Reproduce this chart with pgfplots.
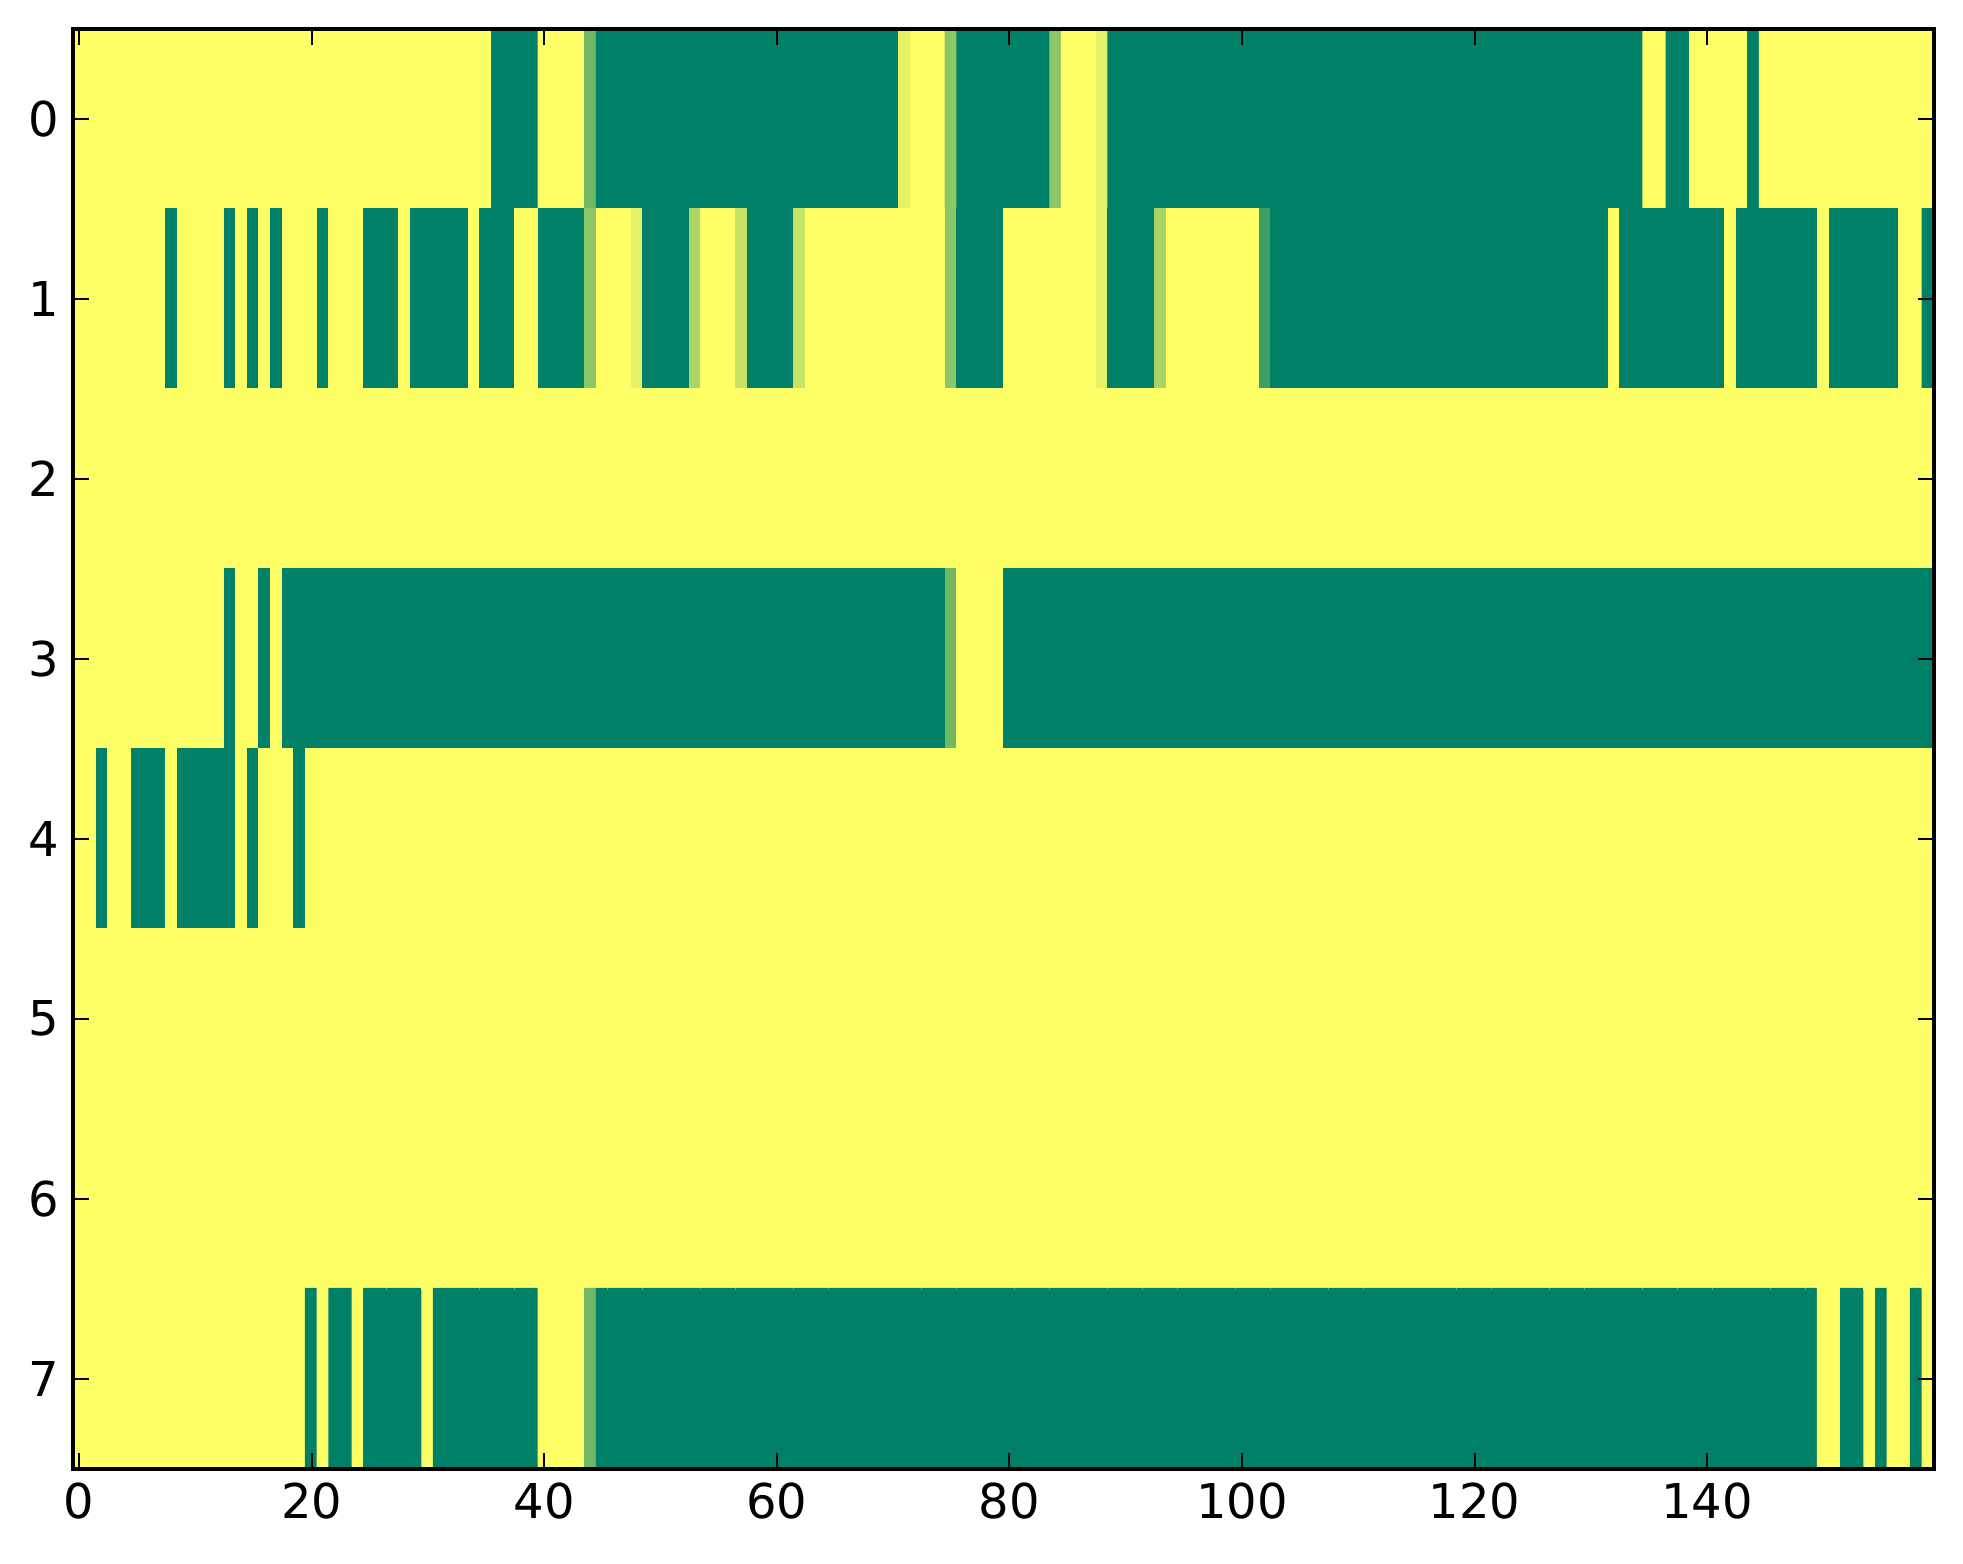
\documentclass[border=0pt]{standalone}
\usepackage{fontspec}
\setmainfont{DejaVu Sans}
\usepackage{pgfplots}
\pgfplotsset{compat=1.18}

\begin{document}
\begin{tikzpicture}
\begin{axis}[
    width=465.3pt, height=360pt, scale only axis,
    xmin=-0.5, xmax=159.5, ymin=-0.5, ymax=7.5,
    y dir=reverse,
    axis on top,
    xtick={0,20,...,140}, ytick={0,...,7},
    tick align=inside,
    major tick length=4pt,
    every tick/.style={black, line width=0.5pt},
    axis line style={line width=1pt},
    tick label style={font=\fontsize{12}{14}\selectfont},
    /pgf/number format/assume math mode=true,
    colormap={summer}{rgb255=(0,128,102) rgb255=(255,255,102)},
    point meta min=0, point meta max=1,
]
\addplot[matrix plot*, mesh/cols=160, mesh/rows=8, point meta=\thisrow{v}] table[row sep=\\] {
x y v\\
0 0 1\\1 0 1\\2 0 1\\3 0 1\\4 0 1\\5 0 1\\6 0 1\\7 0 1\\8 0 1\\9 0 1\\
10 0 1\\11 0 1\\12 0 1\\13 0 1\\14 0 1\\15 0 1\\16 0 1\\17 0 1\\18 0 1\\19 0 1\\
20 0 1\\21 0 1\\22 0 1\\23 0 1\\24 0 1\\25 0 1\\26 0 1\\27 0 1\\28 0 1\\29 0 1\\
30 0 1\\31 0 1\\32 0 1\\33 0 1\\34 0 1\\35 0 1\\36 0 0\\37 0 0\\38 0 0\\39 0 0\\
40 0 1\\41 0 1\\42 0 1\\43 0 1\\44 0 0.44\\45 0 0\\46 0 0\\47 0 0\\48 0 0\\49 0 0\\
50 0 0\\51 0 0\\52 0 0\\53 0 0\\54 0 0\\55 0 0\\56 0 0\\57 0 0\\58 0 0\\59 0 0\\
60 0 0\\61 0 0\\62 0 0\\63 0 0\\64 0 0\\65 0 0\\66 0 0\\67 0 0\\68 0 0\\69 0 0\\
70 0 0\\71 0 0.89\\72 0 1\\73 0 1\\74 0 1\\75 0 0.55\\76 0 0\\77 0 0\\78 0 0\\79 0 0\\
80 0 0\\81 0 0\\82 0 0\\83 0 0\\84 0 0.55\\85 0 1\\86 0 1\\87 0 1\\88 0 0.89\\89 0 0\\
90 0 0\\91 0 0\\92 0 0\\93 0 0\\94 0 0\\95 0 0\\96 0 0\\97 0 0\\98 0 0\\99 0 0\\
100 0 0\\101 0 0\\102 0 0\\103 0 0\\104 0 0\\105 0 0\\106 0 0\\107 0 0\\108 0 0\\109 0 0\\
110 0 0\\111 0 0\\112 0 0\\113 0 0\\114 0 0\\115 0 0\\116 0 0\\117 0 0\\118 0 0\\119 0 0\\
120 0 0\\121 0 0\\122 0 0\\123 0 0\\124 0 0\\125 0 0\\126 0 0\\127 0 0\\128 0 0\\129 0 0\\
130 0 0\\131 0 0\\132 0 0\\133 0 0\\134 0 0\\135 0 1\\136 0 1\\137 0 0\\138 0 0\\139 0 1\\
140 0 1\\141 0 1\\142 0 1\\143 0 1\\144 0 0\\145 0 1\\146 0 1\\147 0 1\\148 0 1\\149 0 1\\
150 0 1\\151 0 1\\152 0 1\\153 0 1\\154 0 1\\155 0 1\\156 0 1\\157 0 1\\158 0 1\\159 0 1\\
0 1 1\\1 1 1\\2 1 1\\3 1 1\\4 1 1\\5 1 1\\6 1 1\\7 1 1\\8 1 0\\9 1 1\\
10 1 1\\11 1 1\\12 1 1\\13 1 0\\14 1 1\\15 1 0\\16 1 1\\17 1 0\\18 1 1\\19 1 1\\
20 1 1\\21 1 0\\22 1 1\\23 1 1\\24 1 1\\25 1 0\\26 1 0\\27 1 0\\28 1 1\\29 1 0\\
30 1 0\\31 1 0\\32 1 0\\33 1 0\\34 1 1\\35 1 0\\36 1 0\\37 1 0\\38 1 1\\39 1 1\\
40 1 0\\41 1 0\\42 1 0\\43 1 0\\44 1 0.55\\45 1 1\\46 1 1\\47 1 1\\48 1 0.89\\49 1 0\\
50 1 0\\51 1 0\\52 1 0\\53 1 0.66\\54 1 1\\55 1 1\\56 1 1\\57 1 0.78\\58 1 0\\59 1 0\\
60 1 0\\61 1 0\\62 1 0.78\\63 1 1\\64 1 1\\65 1 1\\66 1 1\\67 1 1\\68 1 1\\69 1 1\\
70 1 1\\71 1 1\\72 1 1\\73 1 1\\74 1 1\\75 1 0.55\\76 1 0\\77 1 0\\78 1 0\\79 1 0\\
80 1 1\\81 1 1\\82 1 1\\83 1 1\\84 1 1\\85 1 1\\86 1 1\\87 1 1\\88 1 0.89\\89 1 0\\
90 1 0\\91 1 0\\92 1 0\\93 1 0.66\\94 1 1\\95 1 1\\96 1 1\\97 1 1\\98 1 1\\99 1 1\\
100 1 1\\101 1 1\\102 1 0.24\\103 1 0\\104 1 0\\105 1 0\\106 1 0\\107 1 0\\108 1 0\\109 1 0\\
110 1 0\\111 1 0\\112 1 0\\113 1 0\\114 1 0\\115 1 0\\116 1 0\\117 1 0\\118 1 0\\119 1 0\\
120 1 0\\121 1 0\\122 1 0\\123 1 0\\124 1 0\\125 1 0\\126 1 0\\127 1 0\\128 1 0\\129 1 0\\
130 1 0\\131 1 0\\132 1 1\\133 1 0\\134 1 0\\135 1 0\\136 1 0\\137 1 0\\138 1 0\\139 1 0\\
140 1 0\\141 1 0\\142 1 1\\143 1 0\\144 1 0\\145 1 0\\146 1 0\\147 1 0\\148 1 0\\149 1 0\\
150 1 1\\151 1 0\\152 1 0\\153 1 0\\154 1 0\\155 1 0\\156 1 0\\157 1 1\\158 1 1\\159 1 0\\
0 2 1\\1 2 1\\2 2 1\\3 2 1\\4 2 1\\5 2 1\\6 2 1\\7 2 1\\8 2 1\\9 2 1\\
10 2 1\\11 2 1\\12 2 1\\13 2 1\\14 2 1\\15 2 1\\16 2 1\\17 2 1\\18 2 1\\19 2 1\\
20 2 1\\21 2 1\\22 2 1\\23 2 1\\24 2 1\\25 2 1\\26 2 1\\27 2 1\\28 2 1\\29 2 1\\
30 2 1\\31 2 1\\32 2 1\\33 2 1\\34 2 1\\35 2 1\\36 2 1\\37 2 1\\38 2 1\\39 2 1\\
40 2 1\\41 2 1\\42 2 1\\43 2 1\\44 2 1\\45 2 1\\46 2 1\\47 2 1\\48 2 1\\49 2 1\\
50 2 1\\51 2 1\\52 2 1\\53 2 1\\54 2 1\\55 2 1\\56 2 1\\57 2 1\\58 2 1\\59 2 1\\
60 2 1\\61 2 1\\62 2 1\\63 2 1\\64 2 1\\65 2 1\\66 2 1\\67 2 1\\68 2 1\\69 2 1\\
70 2 1\\71 2 1\\72 2 1\\73 2 1\\74 2 1\\75 2 1\\76 2 1\\77 2 1\\78 2 1\\79 2 1\\
80 2 1\\81 2 1\\82 2 1\\83 2 1\\84 2 1\\85 2 1\\86 2 1\\87 2 1\\88 2 1\\89 2 1\\
90 2 1\\91 2 1\\92 2 1\\93 2 1\\94 2 1\\95 2 1\\96 2 1\\97 2 1\\98 2 1\\99 2 1\\
100 2 1\\101 2 1\\102 2 1\\103 2 1\\104 2 1\\105 2 1\\106 2 1\\107 2 1\\108 2 1\\109 2 1\\
110 2 1\\111 2 1\\112 2 1\\113 2 1\\114 2 1\\115 2 1\\116 2 1\\117 2 1\\118 2 1\\119 2 1\\
120 2 1\\121 2 1\\122 2 1\\123 2 1\\124 2 1\\125 2 1\\126 2 1\\127 2 1\\128 2 1\\129 2 1\\
130 2 1\\131 2 1\\132 2 1\\133 2 1\\134 2 1\\135 2 1\\136 2 1\\137 2 1\\138 2 1\\139 2 1\\
140 2 1\\141 2 1\\142 2 1\\143 2 1\\144 2 1\\145 2 1\\146 2 1\\147 2 1\\148 2 1\\149 2 1\\
150 2 1\\151 2 1\\152 2 1\\153 2 1\\154 2 1\\155 2 1\\156 2 1\\157 2 1\\158 2 1\\159 2 1\\
0 3 1\\1 3 1\\2 3 1\\3 3 1\\4 3 1\\5 3 1\\6 3 1\\7 3 1\\8 3 1\\9 3 1\\
10 3 1\\11 3 1\\12 3 1\\13 3 0\\14 3 1\\15 3 1\\16 3 0\\17 3 1\\18 3 0\\19 3 0\\
20 3 0\\21 3 0\\22 3 0\\23 3 0\\24 3 0\\25 3 0\\26 3 0\\27 3 0\\28 3 0\\29 3 0\\
30 3 0\\31 3 0\\32 3 0\\33 3 0\\34 3 0\\35 3 0\\36 3 0\\37 3 0\\38 3 0\\39 3 0\\
40 3 0\\41 3 0\\42 3 0\\43 3 0\\44 3 0\\45 3 0\\46 3 0\\47 3 0\\48 3 0\\49 3 0\\
50 3 0\\51 3 0\\52 3 0\\53 3 0\\54 3 0\\55 3 0\\56 3 0\\57 3 0\\58 3 0\\59 3 0\\
60 3 0\\61 3 0\\62 3 0\\63 3 0\\64 3 0\\65 3 0\\66 3 0\\67 3 0\\68 3 0\\69 3 0\\
70 3 0\\71 3 0\\72 3 0\\73 3 0\\74 3 0\\75 3 0.44\\76 3 1\\77 3 1\\78 3 1\\79 3 1\\
80 3 0\\81 3 0\\82 3 0\\83 3 0\\84 3 0\\85 3 0\\86 3 0\\87 3 0\\88 3 0\\89 3 0\\
90 3 0\\91 3 0\\92 3 0\\93 3 0\\94 3 0\\95 3 0\\96 3 0\\97 3 0\\98 3 0\\99 3 0\\
100 3 0\\101 3 0\\102 3 0\\103 3 0\\104 3 0\\105 3 0\\106 3 0\\107 3 0\\108 3 0\\109 3 0\\
110 3 0\\111 3 0\\112 3 0\\113 3 0\\114 3 0\\115 3 0\\116 3 0\\117 3 0\\118 3 0\\119 3 0\\
120 3 0\\121 3 0\\122 3 0\\123 3 0\\124 3 0\\125 3 0\\126 3 0\\127 3 0\\128 3 0\\129 3 0\\
130 3 0\\131 3 0\\132 3 0\\133 3 0\\134 3 0\\135 3 0\\136 3 0\\137 3 0\\138 3 0\\139 3 0\\
140 3 0\\141 3 0\\142 3 0\\143 3 0\\144 3 0\\145 3 0\\146 3 0\\147 3 0\\148 3 0\\149 3 0\\
150 3 0\\151 3 0\\152 3 0\\153 3 0\\154 3 0\\155 3 0\\156 3 0\\157 3 0\\158 3 0\\159 3 0\\
0 4 1\\1 4 1\\2 4 0\\3 4 1\\4 4 1\\5 4 0\\6 4 0\\7 4 0\\8 4 1\\9 4 0\\
10 4 0\\11 4 0\\12 4 0\\13 4 0\\14 4 1\\15 4 0\\16 4 1\\17 4 1\\18 4 1\\19 4 0\\
20 4 1\\21 4 1\\22 4 1\\23 4 1\\24 4 1\\25 4 1\\26 4 1\\27 4 1\\28 4 1\\29 4 1\\
30 4 1\\31 4 1\\32 4 1\\33 4 1\\34 4 1\\35 4 1\\36 4 1\\37 4 1\\38 4 1\\39 4 1\\
40 4 1\\41 4 1\\42 4 1\\43 4 1\\44 4 1\\45 4 1\\46 4 1\\47 4 1\\48 4 1\\49 4 1\\
50 4 1\\51 4 1\\52 4 1\\53 4 1\\54 4 1\\55 4 1\\56 4 1\\57 4 1\\58 4 1\\59 4 1\\
60 4 1\\61 4 1\\62 4 1\\63 4 1\\64 4 1\\65 4 1\\66 4 1\\67 4 1\\68 4 1\\69 4 1\\
70 4 1\\71 4 1\\72 4 1\\73 4 1\\74 4 1\\75 4 1\\76 4 1\\77 4 1\\78 4 1\\79 4 1\\
80 4 1\\81 4 1\\82 4 1\\83 4 1\\84 4 1\\85 4 1\\86 4 1\\87 4 1\\88 4 1\\89 4 1\\
90 4 1\\91 4 1\\92 4 1\\93 4 1\\94 4 1\\95 4 1\\96 4 1\\97 4 1\\98 4 1\\99 4 1\\
100 4 1\\101 4 1\\102 4 1\\103 4 1\\104 4 1\\105 4 1\\106 4 1\\107 4 1\\108 4 1\\109 4 1\\
110 4 1\\111 4 1\\112 4 1\\113 4 1\\114 4 1\\115 4 1\\116 4 1\\117 4 1\\118 4 1\\119 4 1\\
120 4 1\\121 4 1\\122 4 1\\123 4 1\\124 4 1\\125 4 1\\126 4 1\\127 4 1\\128 4 1\\129 4 1\\
130 4 1\\131 4 1\\132 4 1\\133 4 1\\134 4 1\\135 4 1\\136 4 1\\137 4 1\\138 4 1\\139 4 1\\
140 4 1\\141 4 1\\142 4 1\\143 4 1\\144 4 1\\145 4 1\\146 4 1\\147 4 1\\148 4 1\\149 4 1\\
150 4 1\\151 4 1\\152 4 1\\153 4 1\\154 4 1\\155 4 1\\156 4 1\\157 4 1\\158 4 1\\159 4 1\\
0 5 1\\1 5 1\\2 5 1\\3 5 1\\4 5 1\\5 5 1\\6 5 1\\7 5 1\\8 5 1\\9 5 1\\
10 5 1\\11 5 1\\12 5 1\\13 5 1\\14 5 1\\15 5 1\\16 5 1\\17 5 1\\18 5 1\\19 5 1\\
20 5 1\\21 5 1\\22 5 1\\23 5 1\\24 5 1\\25 5 1\\26 5 1\\27 5 1\\28 5 1\\29 5 1\\
30 5 1\\31 5 1\\32 5 1\\33 5 1\\34 5 1\\35 5 1\\36 5 1\\37 5 1\\38 5 1\\39 5 1\\
40 5 1\\41 5 1\\42 5 1\\43 5 1\\44 5 1\\45 5 1\\46 5 1\\47 5 1\\48 5 1\\49 5 1\\
50 5 1\\51 5 1\\52 5 1\\53 5 1\\54 5 1\\55 5 1\\56 5 1\\57 5 1\\58 5 1\\59 5 1\\
60 5 1\\61 5 1\\62 5 1\\63 5 1\\64 5 1\\65 5 1\\66 5 1\\67 5 1\\68 5 1\\69 5 1\\
70 5 1\\71 5 1\\72 5 1\\73 5 1\\74 5 1\\75 5 1\\76 5 1\\77 5 1\\78 5 1\\79 5 1\\
80 5 1\\81 5 1\\82 5 1\\83 5 1\\84 5 1\\85 5 1\\86 5 1\\87 5 1\\88 5 1\\89 5 1\\
90 5 1\\91 5 1\\92 5 1\\93 5 1\\94 5 1\\95 5 1\\96 5 1\\97 5 1\\98 5 1\\99 5 1\\
100 5 1\\101 5 1\\102 5 1\\103 5 1\\104 5 1\\105 5 1\\106 5 1\\107 5 1\\108 5 1\\109 5 1\\
110 5 1\\111 5 1\\112 5 1\\113 5 1\\114 5 1\\115 5 1\\116 5 1\\117 5 1\\118 5 1\\119 5 1\\
120 5 1\\121 5 1\\122 5 1\\123 5 1\\124 5 1\\125 5 1\\126 5 1\\127 5 1\\128 5 1\\129 5 1\\
130 5 1\\131 5 1\\132 5 1\\133 5 1\\134 5 1\\135 5 1\\136 5 1\\137 5 1\\138 5 1\\139 5 1\\
140 5 1\\141 5 1\\142 5 1\\143 5 1\\144 5 1\\145 5 1\\146 5 1\\147 5 1\\148 5 1\\149 5 1\\
150 5 1\\151 5 1\\152 5 1\\153 5 1\\154 5 1\\155 5 1\\156 5 1\\157 5 1\\158 5 1\\159 5 1\\
0 6 1\\1 6 1\\2 6 1\\3 6 1\\4 6 1\\5 6 1\\6 6 1\\7 6 1\\8 6 1\\9 6 1\\
10 6 1\\11 6 1\\12 6 1\\13 6 1\\14 6 1\\15 6 1\\16 6 1\\17 6 1\\18 6 1\\19 6 1\\
20 6 1\\21 6 1\\22 6 1\\23 6 1\\24 6 1\\25 6 1\\26 6 1\\27 6 1\\28 6 1\\29 6 1\\
30 6 1\\31 6 1\\32 6 1\\33 6 1\\34 6 1\\35 6 1\\36 6 1\\37 6 1\\38 6 1\\39 6 1\\
40 6 1\\41 6 1\\42 6 1\\43 6 1\\44 6 1\\45 6 1\\46 6 1\\47 6 1\\48 6 1\\49 6 1\\
50 6 1\\51 6 1\\52 6 1\\53 6 1\\54 6 1\\55 6 1\\56 6 1\\57 6 1\\58 6 1\\59 6 1\\
60 6 1\\61 6 1\\62 6 1\\63 6 1\\64 6 1\\65 6 1\\66 6 1\\67 6 1\\68 6 1\\69 6 1\\
70 6 1\\71 6 1\\72 6 1\\73 6 1\\74 6 1\\75 6 1\\76 6 1\\77 6 1\\78 6 1\\79 6 1\\
80 6 1\\81 6 1\\82 6 1\\83 6 1\\84 6 1\\85 6 1\\86 6 1\\87 6 1\\88 6 1\\89 6 1\\
90 6 1\\91 6 1\\92 6 1\\93 6 1\\94 6 1\\95 6 1\\96 6 1\\97 6 1\\98 6 1\\99 6 1\\
100 6 1\\101 6 1\\102 6 1\\103 6 1\\104 6 1\\105 6 1\\106 6 1\\107 6 1\\108 6 1\\109 6 1\\
110 6 1\\111 6 1\\112 6 1\\113 6 1\\114 6 1\\115 6 1\\116 6 1\\117 6 1\\118 6 1\\119 6 1\\
120 6 1\\121 6 1\\122 6 1\\123 6 1\\124 6 1\\125 6 1\\126 6 1\\127 6 1\\128 6 1\\129 6 1\\
130 6 1\\131 6 1\\132 6 1\\133 6 1\\134 6 1\\135 6 1\\136 6 1\\137 6 1\\138 6 1\\139 6 1\\
140 6 1\\141 6 1\\142 6 1\\143 6 1\\144 6 1\\145 6 1\\146 6 1\\147 6 1\\148 6 1\\149 6 1\\
150 6 1\\151 6 1\\152 6 1\\153 6 1\\154 6 1\\155 6 1\\156 6 1\\157 6 1\\158 6 1\\159 6 1\\
0 7 1\\1 7 1\\2 7 1\\3 7 1\\4 7 1\\5 7 1\\6 7 1\\7 7 1\\8 7 1\\9 7 1\\
10 7 1\\11 7 1\\12 7 1\\13 7 1\\14 7 1\\15 7 1\\16 7 1\\17 7 1\\18 7 1\\19 7 1\\
20 7 0\\21 7 1\\22 7 0\\23 7 0\\24 7 1\\25 7 0\\26 7 0\\27 7 0\\28 7 0\\29 7 0\\
30 7 1\\31 7 0\\32 7 0\\33 7 0\\34 7 0\\35 7 0\\36 7 0\\37 7 0\\38 7 0\\39 7 0\\
40 7 1\\41 7 1\\42 7 1\\43 7 1\\44 7 0.44\\45 7 0\\46 7 0\\47 7 0\\48 7 0\\49 7 0\\
50 7 0\\51 7 0\\52 7 0\\53 7 0\\54 7 0\\55 7 0\\56 7 0\\57 7 0\\58 7 0\\59 7 0\\
60 7 0\\61 7 0\\62 7 0\\63 7 0\\64 7 0\\65 7 0\\66 7 0\\67 7 0\\68 7 0\\69 7 0\\
70 7 0\\71 7 0\\72 7 0\\73 7 0\\74 7 0\\75 7 0\\76 7 0\\77 7 0\\78 7 0\\79 7 0\\
80 7 0\\81 7 0\\82 7 0\\83 7 0\\84 7 0\\85 7 0\\86 7 0\\87 7 0\\88 7 0\\89 7 0\\
90 7 0\\91 7 0\\92 7 0\\93 7 0\\94 7 0\\95 7 0\\96 7 0\\97 7 0\\98 7 0\\99 7 0\\
100 7 0\\101 7 0\\102 7 0\\103 7 0\\104 7 0\\105 7 0\\106 7 0\\107 7 0\\108 7 0\\109 7 0\\
110 7 0\\111 7 0\\112 7 0\\113 7 0\\114 7 0\\115 7 0\\116 7 0\\117 7 0\\118 7 0\\119 7 0\\
120 7 0\\121 7 0\\122 7 0\\123 7 0\\124 7 0\\125 7 0\\126 7 0\\127 7 0\\128 7 0\\129 7 0\\
130 7 0\\131 7 0\\132 7 0\\133 7 0\\134 7 0\\135 7 0\\136 7 0\\137 7 0\\138 7 0\\139 7 0\\
140 7 0\\141 7 0\\142 7 0\\143 7 0\\144 7 0\\145 7 0\\146 7 0\\147 7 0\\148 7 0\\149 7 0\\
150 7 1\\151 7 1\\152 7 0\\153 7 0\\154 7 1\\155 7 0\\156 7 1\\157 7 1\\158 7 0\\159 7 1\\
};
\coordinate (sw) at (axis description cs:0,0);
\coordinate (ne) at (axis description cs:1,1);
\end{axis}
\pgfresetboundingbox
\path ([shift={(-18.3pt,-23.75pt)}]sw) rectangle ([shift={(7.25pt,7.25pt)}]ne);
\end{tikzpicture}
\end{document}
